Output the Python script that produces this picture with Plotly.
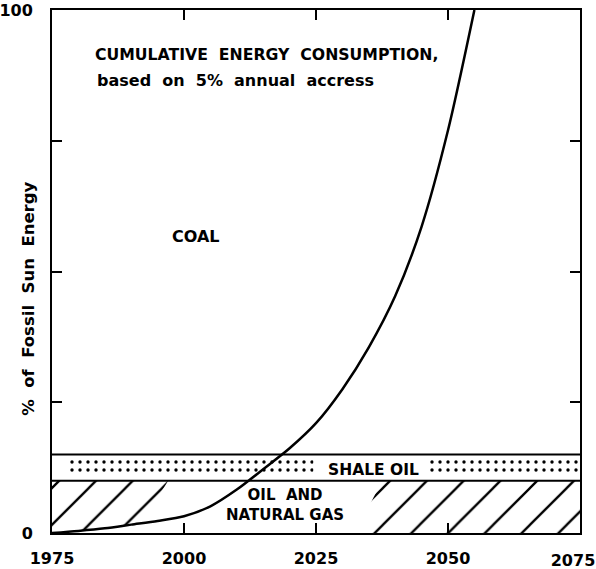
import plotly.graph_objects as go

# ---- data ----
years = [1975, 1980, 1985, 1990, 1995, 2000, 2005, 2010, 2015, 2020,
         2025, 2030, 2035, 2040, 2045, 2050, 2055]
cumulative = [0, 0.4, 0.9, 1.6, 2.3, 3.2, 5.1, 8.3, 12.2, 16.2,
              21.0, 27.5, 35.5, 45.3, 58.6, 77.0, 100]

oil_gas_top = 10      # % : oil and natural gas band
shale_top = 15        # % : shale oil band

x_ticks = [1975, 2000, 2025, 2050, 2075]
x_tick_labels = ["1975", "2000", "2025", "2050", "2075"]
y_ticks = [0, 25, 50, 75, 100]
y_tick_labels = ["0", "", "", "", "100"]

# hatched / stippled region extents (years)
left_hatch_curve_end = 1992
left_hatch_top_end = 1997
right_hatch_bottom_start = 2032.5
right_hatch_top_start = 2037.5
dot_ranges = [(1978, 2024.5), (2046.5, 2075)]

FONT = "DejaVu Sans"

fig = go.Figure()

# left hatched region (oil and gas), bounded by the curve
lx = [y for y in years if y <= left_hatch_curve_end]
ly = [cumulative[years.index(y)] for y in lx]
i = max(k for k, y in enumerate(years) if y <= left_hatch_curve_end)
v_end = cumulative[i] + (cumulative[i + 1] - cumulative[i]) * (left_hatch_curve_end - years[i]) / (years[i + 1] - years[i])
hx = [1975] + lx + [left_hatch_curve_end, left_hatch_top_end, 1975, 1975]
hy = [0] + ly + [v_end, oil_gas_top, oil_gas_top, 0]
hatch = dict(shape="/", size=26, solidity=0.09, fgcolor="black",
             bgcolor="rgba(0,0,0,0)", fillmode="replace")
fig.add_trace(go.Scatter(
    x=hx, y=hy, mode="lines", fill="toself", line=dict(width=0),
    fillcolor="rgba(0,0,0,0)", fillpattern=hatch,
    hoverinfo="skip", showlegend=False))

# right hatched region
fig.add_trace(go.Scatter(
    x=[right_hatch_bottom_start, 2075, 2075, right_hatch_top_start, right_hatch_bottom_start],
    y=[0, 0, oil_gas_top, oil_gas_top, 0],
    mode="lines", fill="toself", line=dict(width=0), fillcolor="rgba(0,0,0,0)",
    fillpattern=hatch, hoverinfo="skip", showlegend=False))

# stippled shale oil regions
for a, b in dot_ranges:
    fig.add_trace(go.Scatter(
        x=[a, b, b, a, a],
        y=[oil_gas_top + 0.9, oil_gas_top + 0.9, shale_top - 0.9, shale_top - 0.9, oil_gas_top + 0.9],
        mode="lines", fill="toself", line=dict(width=0), fillcolor="rgba(0,0,0,0)",
        fillpattern=dict(shape=".", size=8, solidity=0.14, fgcolor="black",
                         bgcolor="rgba(0,0,0,0)", fillmode="replace"),
        hoverinfo="skip", showlegend=False))

# band boundary lines (the upper one lives on the overlay x-axis so that axis is drawn)
fig.add_trace(go.Scatter(x=[1975, 2075], y=[oil_gas_top, oil_gas_top], mode="lines",
                         line=dict(color="black", width=2),
                         hoverinfo="skip", showlegend=False))
fig.add_trace(go.Scatter(x=[1975, 2075], y=[shale_top, shale_top], mode="lines",
                         line=dict(color="black", width=2), xaxis="x2",
                         hoverinfo="skip", showlegend=False))

# cumulative consumption curve
fig.add_trace(go.Scatter(x=years, y=cumulative, mode="lines",
                         line=dict(color="black", width=2.5, shape="spline", smoothing=0.8),
                         showlegend=False))


def f(size):
    return dict(family=FONT, size=size, color="black", weight="bold")


annotations = [
    dict(x=1982.8, y=91.4, text="CUMULATIVE  ENERGY  CONSUMPTION,", xanchor="left",
         yanchor="middle", showarrow=False, font=f(15.7)),
    dict(x=1983.1, y=86.6, text="based  on  5%  annual  accress", xanchor="left",
         yanchor="middle", showarrow=False, font=f(16)),
    dict(x=2002.3, y=56.6, text="COAL", showarrow=False, font=f(16)),
    dict(x=2035.8, y=12.1, text="SHALE OIL", showarrow=False, font=f(15.5)),
    dict(x=2019.1, y=5.35, text="OIL  AND<br>NATURAL GAS", showarrow=False, font=f(15)),
    dict(xref="paper", x=-0.066, y=44.7, text="%  of  Fossil  Sun  Energy",
         textangle=-90, showarrow=False, font=f(16.5)),
]

common_axis = dict(showgrid=False, zeroline=False, automargin=False)

fig.update_layout(
    width=596, height=569,
    margin=dict(l=52, r=16, t=10, b=36, autoexpand=False),
    paper_bgcolor="white", plot_bgcolor="white",
    annotations=annotations,
    xaxis=dict(range=[1975, 2075], tickvals=x_ticks,
               ticktext=x_tick_labels[:-1] + [""],
               showline=True, linecolor="black", linewidth=2,
               mirror="ticks", ticks="inside", ticklen=10, tickwidth=2, tickcolor="black",
               ticklabelstandoff=10, ticklabeloverflow="allow",
               tickfont=f(16), **common_axis),
    # overlay axis carrying only the last label, nudged left so it stays in the window
    xaxis2=dict(range=[1975, 2075], overlaying="x", anchor="y", side="bottom",
                tickvals=x_ticks[-1:], ticktext=x_tick_labels[-1:],
                showline=False, ticks="", ticklabelstandoff=16, ticklabelshift=-7,
                ticklabeloverflow="allow", tickfont=f(16), **common_axis),
    yaxis=dict(range=[0, 100], tickvals=y_ticks, ticktext=y_tick_labels,
               showline=True, linecolor="black", linewidth=2,
               mirror="ticks", ticks="inside", ticklen=10, tickwidth=2, tickcolor="black",
               ticklabelstandoff=14, ticklabeloverflow="allow",
               tickfont=f(16), **common_axis),
)

# remove the default 8px page margin so the figure fills the window exactly
fig.write_html("out.html", config={"displayModeBar": False},
               post_script="document.body.style.margin='0';")
